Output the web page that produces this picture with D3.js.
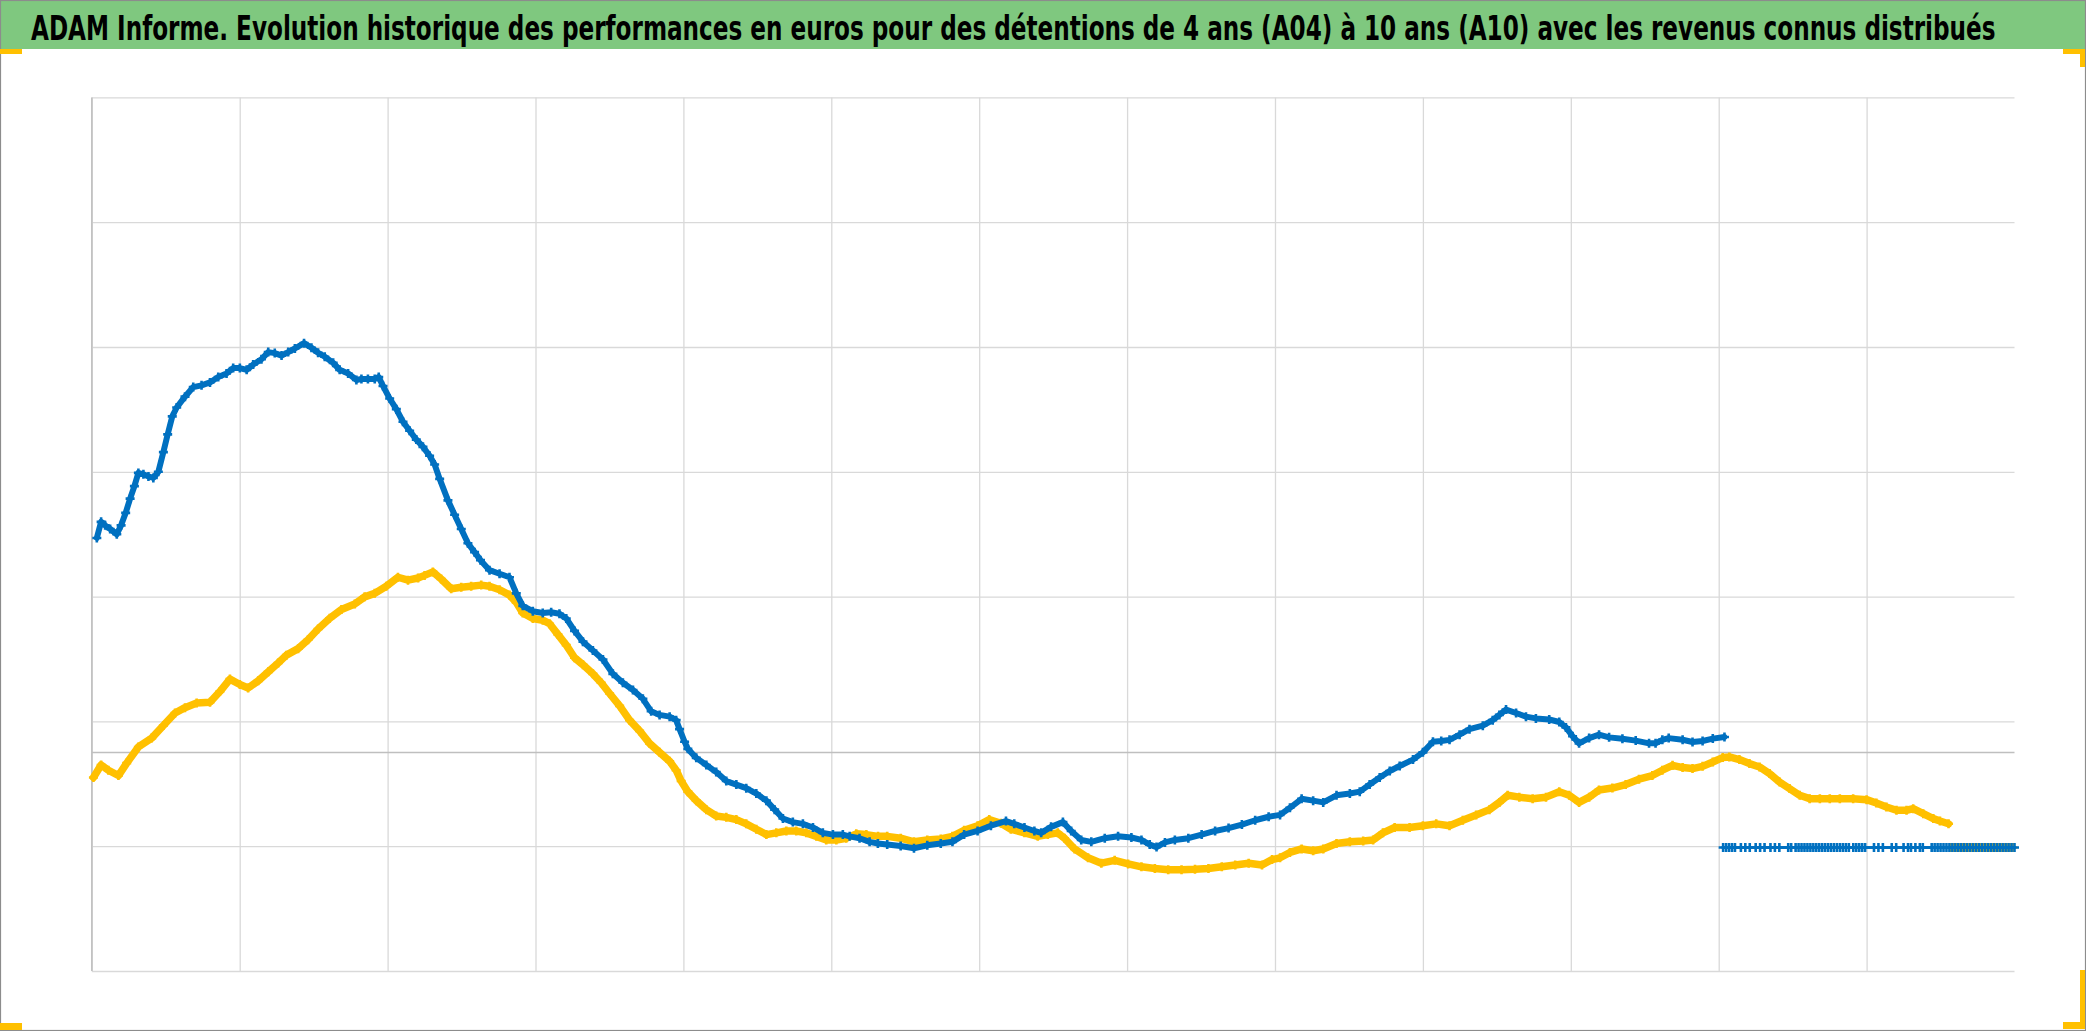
<!DOCTYPE html>
<html>
<head>
<meta charset="utf-8">
<script src="https://cdn.jsdelivr.net/npm/d3@7/dist/d3.min.js"></script>
<style>
  html, body { margin: 0; padding: 0; background: #ffffff; }
  svg { display: block; }
</style>
</head>
<body>
<svg id="chart" width="2086" height="1031"></svg>
<script>
// ---------------- DATA ----------------
const titleText = "ADAM Informe. Evolution historique des performances en euros pour des détentions de 4 ans (A04) à 10 ans (A10) avec les revenus connus distribués";

// horizontal unit positions (13 units wide), vertical values
const xGridTicks = [0,1,2,3,4,5,6,7,8,9,10,11,12];
const yGridTicks = [-175,-75,25,125,225,325,425,525];

// Blue series (A04)
const blueX = [0.034,0.063,0.090,0.124,0.169,0.198,0.229,0.259,0.288,0.315,0.349,0.383,0.416,0.450,0.484,0.513,0.544,0.574,0.630,0.686,0.742,0.799,0.855,0.911,0.956,1.001,1.047,1.091,1.147,1.193,1.237,1.283,1.328,1.373,1.435,1.485,1.530,1.575,1.632,1.676,1.733,1.789,1.823,1.867,1.913,1.940,1.969,2.014,2.059,2.104,2.149,2.194,2.239,2.284,2.318,2.352,2.408,2.453,2.498,2.543,2.588,2.628,2.689,2.757,2.824,2.870,2.914,2.982,3.049,3.106,3.162,3.208,3.264,3.321,3.388,3.456,3.523,3.591,3.659,3.726,3.782,3.839,3.907,3.951,3.974,4.008,4.030,4.087,4.155,4.222,4.290,4.358,4.425,4.493,4.561,4.617,4.673,4.740,4.808,4.876,4.943,5.011,5.078,5.124,5.191,5.259,5.315,5.378,5.469,5.559,5.649,5.740,5.819,5.898,5.989,6.079,6.181,6.237,6.306,6.373,6.419,6.486,6.566,6.622,6.690,6.758,6.849,6.939,7.029,7.097,7.153,7.199,7.256,7.323,7.414,7.504,7.595,7.686,7.776,7.866,7.957,8.034,8.101,8.180,8.258,8.326,8.416,8.506,8.573,8.640,8.708,8.776,8.843,8.933,9.000,9.068,9.124,9.180,9.248,9.315,9.405,9.472,9.517,9.562,9.630,9.697,9.764,9.854,9.922,9.967,10.012,10.056,10.124,10.191,10.259,10.349,10.439,10.529,10.573,10.619,10.662,10.756,10.823,10.891,10.960,11.039];
const blueY = [172.0,184.9,182.1,179.2,174.9,182.1,192.1,203.5,213.5,224.1,223.0,221.3,220.1,225.0,240.8,255.0,269.4,276.5,285.2,292.9,294.3,296.6,300.9,303.8,308.1,308.1,306.7,310.9,315.2,320.9,320.1,318.1,320.9,323.8,328.1,324.4,320.4,317.2,312.3,306.7,303.8,298.6,299.4,299.4,299.4,300.9,293.8,283.7,275.2,265.1,257.9,250.8,245.0,237.9,230.8,219.3,202.1,190.6,179.2,167.7,160.6,154.2,146.2,143.3,140.5,127.6,117.6,113.3,111.9,112.4,111.3,107.5,97.5,88.9,81.8,74.6,63.1,56.0,50.2,43.1,33.1,30.2,28.8,26.0,18.8,8.7,3.0,-4.2,-9.9,-15.6,-22.8,-25.6,-28.5,-32.8,-38.5,-45.7,-52.8,-55.7,-57.1,-60.0,-64.3,-65.7,-65.7,-67.1,-68.6,-71.5,-72.8,-73.7,-74.8,-76.6,-74.3,-72.8,-71.5,-65.7,-62.8,-58.6,-54.9,-57.1,-60.0,-62.8,-64.3,-59.5,-55.7,-62.8,-70.0,-71.5,-68.6,-67.1,-68.0,-70.0,-73.7,-75.7,-72.0,-70.0,-68.6,-65.7,-62.8,-60.5,-57.7,-54.2,-51.4,-49.9,-44.2,-37.0,-38.5,-39.9,-34.2,-32.8,-31.3,-25.6,-19.9,-14.7,-10.7,-5.6,0.2,8.7,9.3,10.2,14.4,18.8,21.6,26.0,30.2,34.5,31.7,28.8,27.4,26.5,24.5,20.2,13.1,7.4,11.6,14.4,12.2,11.1,9.6,7.4,7.4,10.2,11.6,10.3,8.5,9.3,11.2,12.5];

// Gold series (A10)
const goldX = [0.011,0.063,0.112,0.180,0.236,0.315,0.405,0.484,0.563,0.630,0.709,0.799,0.866,0.934,1.001,1.057,1.125,1.193,1.260,1.316,1.395,1.462,1.530,1.609,1.688,1.778,1.845,1.913,1.991,2.070,2.138,2.206,2.250,2.306,2.362,2.430,2.498,2.565,2.633,2.689,2.757,2.824,2.870,2.914,2.982,3.049,3.095,3.151,3.208,3.264,3.321,3.388,3.444,3.501,3.569,3.636,3.704,3.771,3.839,3.907,3.951,3.985,4.030,4.087,4.155,4.222,4.290,4.358,4.425,4.493,4.561,4.628,4.696,4.763,4.831,4.899,4.966,5.034,5.101,5.169,5.237,5.316,5.378,5.469,5.559,5.649,5.740,5.819,5.898,5.989,6.068,6.147,6.214,6.306,6.396,6.464,6.531,6.577,6.645,6.736,6.826,6.916,7.007,7.097,7.188,7.278,7.368,7.459,7.550,7.640,7.731,7.822,7.912,7.980,8.034,8.101,8.180,8.258,8.326,8.416,8.506,8.596,8.663,8.730,8.809,8.910,9.000,9.090,9.180,9.270,9.360,9.450,9.517,9.573,9.652,9.742,9.832,9.922,9.989,10.056,10.124,10.191,10.281,10.371,10.461,10.551,10.619,10.688,10.756,10.823,10.891,10.960,11.027,11.072,11.140,11.208,11.276,11.344,11.412,11.479,11.548,11.615,11.684,11.751,11.819,11.909,12.000,12.066,12.134,12.202,12.270,12.315,12.383,12.451,12.496,12.554];
const goldY = [-19.9,-9.9,-14.1,-18.4,-8.4,4.5,11.6,21.7,31.7,36.0,39.7,40.3,48.9,58.9,54.6,51.8,57.5,64.7,71.8,78.1,83.3,90.4,99.0,107.6,114.7,119.1,124.8,127.6,133.3,140.5,138.2,139.9,142.0,144.8,139.1,131.3,132.5,133.3,134.2,133.3,130.5,126.2,120.4,111.9,107.5,106.1,103.3,94.7,86.1,76.0,70.4,63.1,56.0,47.4,37.4,26.0,17.4,7.4,0.2,-7.0,-14.1,-22.8,-31.3,-38.5,-45.7,-50.8,-51.9,-53.7,-57.1,-61.4,-65.7,-64.3,-62.8,-62.8,-64.3,-67.1,-70.0,-70.0,-68.6,-65.1,-65.7,-67.1,-67.1,-68.6,-71.5,-70.0,-69.2,-67.1,-62.3,-58.6,-53.7,-56.6,-61.4,-64.3,-67.1,-65.7,-64.3,-68.6,-77.2,-84.3,-88.6,-86.3,-89.2,-91.5,-92.9,-93.8,-93.8,-93.5,-92.9,-91.5,-90.1,-88.6,-90.1,-85.7,-84.3,-80.0,-77.2,-78.6,-77.2,-72.8,-71.5,-70.8,-70.0,-64.3,-60.0,-60.0,-58.6,-57.1,-58.6,-54.2,-50.0,-45.7,-39.9,-34.2,-35.7,-37.0,-35.7,-31.3,-34.2,-39.9,-35.7,-29.9,-28.4,-25.6,-21.3,-18.4,-14.1,-10.2,-12.0,-12.8,-11.0,-7.5,-4.0,-3.5,-5.6,-8.8,-11.5,-16.8,-23.6,-28.8,-34.2,-36.9,-36.9,-36.9,-36.9,-36.9,-37.7,-40.4,-43.6,-46.2,-46.2,-44.9,-48.9,-52.9,-54.8,-57.0];

// Trailing constant-value points of each series
const tailLevel = -76;
const blueTailX = [11.03,11.05,11.07,11.09,11.11,11.15,11.18,11.21,11.25,11.28,11.31,11.35,11.38,11.41,11.47,11.49,11.52,11.54,11.56,11.58,11.60,11.62,11.64,11.66,11.68,11.70,11.72,11.74,11.76,11.78,11.80,11.82,11.84,11.86,11.88,11.91,11.93,11.95,11.97,11.99,12.05,12.08,12.11,12.17,12.20,12.25,12.28,12.30,12.33,12.36,12.38,12.44,12.46,12.48,12.50,12.52,12.54,12.56,12.58,12.60,12.62,12.64,12.66,12.68,12.70,12.72,12.74,12.76,12.78,12.80,12.82,12.84,12.86,12.88,12.90,12.92,12.94,12.96,12.98,13.00];
const goldTailX = [12.57,12.59,12.61,12.63,12.65,12.67,12.69,12.71,12.73,12.75,12.77,12.79,12.81,12.83,12.85,12.87,12.89,12.91,12.93,12.95,12.97,12.99];

// ---------------- CHART ----------------
const W = 2086, H = 1031;
const svg = d3.select("#chart");

const plot = { left: 91.8, right: 2014.5, top: 97.4, bottom: 971 };
const x = d3.scaleLinear().domain([0, 13]).range([plot.left, plot.right]);
const y = d3.scaleLinear().domain([-175, 525]).range([plot.bottom, plot.top]);

const BLUE = "#0070C0", GOLD = "#FFC000";

// background
svg.append("rect").attr("x", 0).attr("y", 0).attr("width", W).attr("height", H).attr("fill", "#ffffff");

// title bar
svg.append("rect").attr("x", 0).attr("y", 0).attr("width", W).attr("height", 49).attr("fill", "#7FC87F");
const title = svg.append("text")
  .attr("x", 0).attr("y", 0)
  .style("font-family", "'Liberation Sans Narrow', 'Arial Narrow', 'DejaVu Sans Condensed', 'Liberation Sans', sans-serif")
  .style("font-weight", "bold").style("font-size", "34px").attr("fill", "#000")
  .text(titleText);
const natural = title.node().getComputedTextLength();
const targetW = 1966;
title.attr("transform", `translate(31,40) scale(${targetW / natural},1)`);

// horizontal gridlines via axis
const gy = svg.append("g").attr("transform", `translate(${plot.left},0)`)
  .call(d3.axisLeft(y).tickValues(yGridTicks).tickSize(-(plot.right - plot.left)).tickFormat(""));
gy.select(".domain").remove();
gy.selectAll(".tick line").attr("stroke", "#D9D9D9").attr("stroke-width", 1.3);

// vertical gridlines via axis
const gx = svg.append("g").attr("transform", `translate(0,${plot.bottom})`)
  .call(d3.axisBottom(x).tickValues(xGridTicks).tickSize(-(plot.bottom - plot.top)).tickFormat(""));
gx.select(".domain").remove();
gx.selectAll(".tick line").attr("stroke", "#D9D9D9").attr("stroke-width", 1.3);

// left axis line and zero line
svg.append("line").attr("x1", x(0)).attr("x2", x(0)).attr("y1", plot.top).attr("y2", plot.bottom)
  .attr("stroke", "#BFBFBF").attr("stroke-width", 1.5);
svg.append("line").attr("x1", x(0)).attr("x2", x(13)).attr("y1", y(0)).attr("y2", y(0))
  .attr("stroke", "#BFBFBF").attr("stroke-width", 1.5);

// series
const line = d3.line().x(d => x(d[0])).y(d => y(d[1]));
const cross = "M-4.5,0H4.5M0,-4.5V4.5";

function drawSeries(xs, ys, color, lw) {
  const pts = xs.map((v, i) => [v, ys[i]]);
  const g = svg.append("g");
  g.append("path").datum(pts).attr("d", line)
    .attr("fill", "none").attr("stroke", color).attr("stroke-width", lw)
    .attr("stroke-linejoin", "round").attr("stroke-linecap", "round");
  g.selectAll("path.m").data(pts).join("path").attr("class", "m")
    .attr("d", cross)
    .attr("transform", d => `translate(${x(d[0])},${y(d[1])})`)
    .attr("stroke", color).attr("stroke-width", 2.6).attr("fill", "none");
}

drawSeries(goldX, goldY, GOLD, 7.5);
drawSeries(goldTailX, goldTailX.map(() => tailLevel), GOLD, 3);
drawSeries(blueX, blueY, BLUE, 6);
drawSeries(blueTailX, blueTailX.map(() => tailLevel), BLUE, 3);

// outer frame
svg.append("rect").attr("x", 0.5).attr("y", 0.5).attr("width", W - 1).attr("height", H - 1)
  .attr("fill", "none").attr("stroke", "#8C8C8C").attr("stroke-width", 1.2);

// yellow corner handles
const handles = [
  [0, 49, 22, 5], [2063, 49, 22, 5], [2080, 49, 5, 18],
  [0, 1023, 22, 7], [2063, 1022, 22, 7], [2080, 970, 5, 58]
];
svg.selectAll("rect.h").data(handles).join("rect").attr("class", "h")
  .attr("x", d => d[0]).attr("y", d => d[1]).attr("width", d => d[2]).attr("height", d => d[3])
  .attr("fill", GOLD);
</script>
</body>
</html>
